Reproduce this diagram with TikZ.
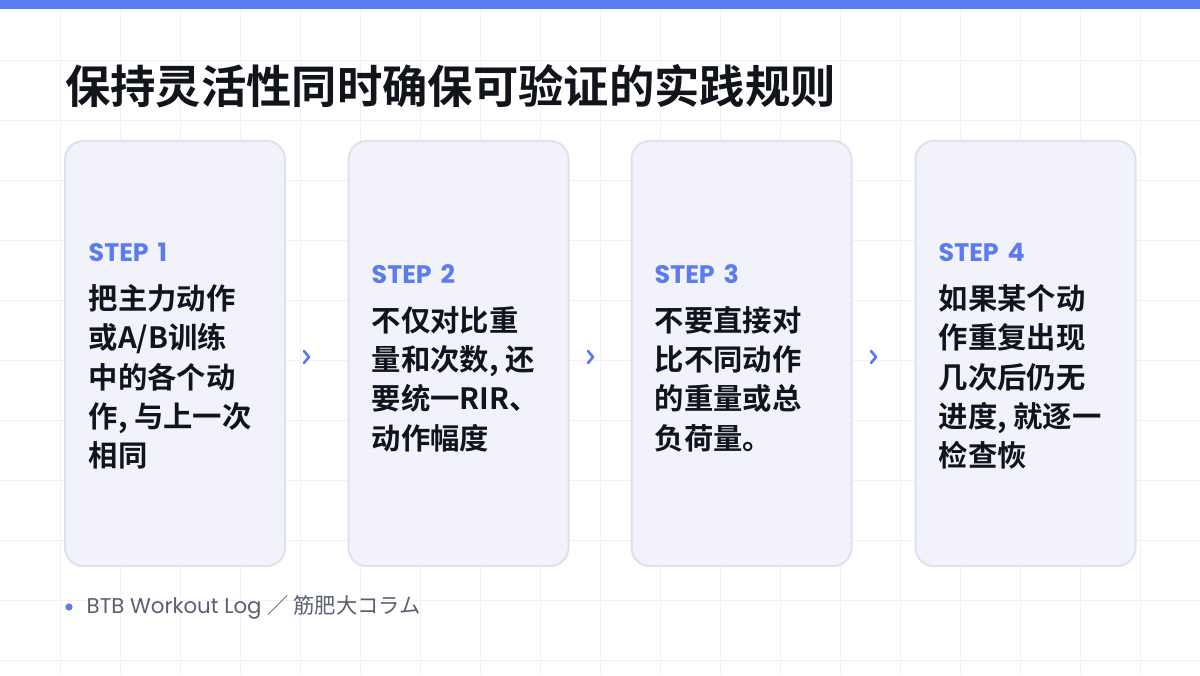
\documentclass[tikz,border=0pt]{standalone}
\usepackage{fontspec}
\setmainfont{Noto Sans CJK SC}
\newfontfamily\cjkbold{Noto Sans CJK SC Bold}
\newfontfamily\latin{Poppins}
\usetikzlibrary{positioning}
\definecolor{accent}{HTML}{5B7CF0}
\definecolor{ink}{HTML}{12141C}
\definecolor{cardfill}{HTML}{F2F3FA}
\definecolor{cardline}{HTML}{DEE2EE}
\definecolor{gridline}{HTML}{F1F2F5}
\definecolor{muted}{HTML}{5A6070}
\tikzset{
  card/.style={draw=cardline, line width=1.5pt, fill=cardfill, rounded corners=14pt,
    minimum width=165pt, minimum height=319pt, inner sep=0pt},
  steptext/.style={align=left, anchor=west, font=\cjkbold\fontsize{22}{29.5}\selectfont, text=ink},
  steplabel/.style={anchor=south west, yshift=10pt, font=\latin\bfseries\fontsize{19}{20}\selectfont, text=accent},
  chevron/.style={draw=accent, line width=2pt, line cap=round, line join=round}
}
\begin{document}
\begin{tikzpicture}[x=0.75pt, y=-0.75pt]
\useasboundingbox (0,0) rectangle (1200,675);
\fill[white] (0,0) rectangle (1200,675);
% background grid
\foreach \gx in {60,120,...,1140} \draw[gridline, line width=0.6pt] (\gx,9) -- (\gx,675);
\foreach \gy in {60,120,...,660} \draw[gridline, line width=0.6pt] (0,\gy) -- (1200,\gy);
\fill[accent] (0,0) rectangle (1200,9);
% title
\node (title) [anchor=west, inner sep=0pt, font=\cjkbold\fontsize{34}{38}\selectfont, text=ink] at (65,86) {保持灵活性同时确保可验证的实践规则};
% cards
\node (card1) [card] at (175,353.5) {};
\node (card2) [card] at (458.5,353.5) {};
\node (card3) [card] at (741.5,353.5) {};
\node (card4) [card] at (1025.5,353.5) {};
% card texts
\node (body1) [steptext] at (84,377) {把主力动作\\或A/B训练\\中的各个动\\作, 与上一次\\相同};
\node (step1) [steplabel] at (body1.north west) {STEP\hspace{0.35em}1};
\node (body2) [steptext] at (367,379) {不仅对比重\\量和次数, 还\\要统一RIR、\\动作幅度};
\node (step2) [steplabel] at (body2.north west) {STEP\hspace{0.35em}2};
\node (body3) [steptext] at (650,379) {不要直接对\\比不同动作\\的重量或总\\负荷量。};
\node (step3) [steplabel] at (body3.north west) {STEP\hspace{0.35em}3};
\node (body4) [steptext] at (934,377) {如果某个动\\作重复出现\\几次后仍无\\进度, 就逐一\\检查恢};
\node (step4) [steplabel] at (body4.north west) {STEP\hspace{0.35em}4};
% chevrons
\foreach \cx in {304,588,871}
  \draw[chevron] (\cx,351) -- (\cx+5,357) -- (\cx,363);
% footer
\fill[accent] (69,607) circle (3.6);
\node (footer) [anchor=west, font=\latin\fontsize{16}{18}\selectfont, text=muted] at (82,607) {BTB Workout Log {\rmfamily ／ 筋肥大コラム}};
\end{tikzpicture}
\end{document}
